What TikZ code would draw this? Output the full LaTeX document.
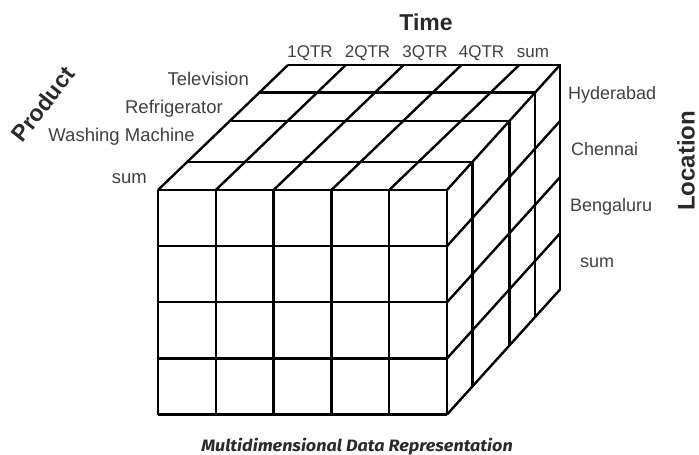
\documentclass[tikz,border=0pt]{standalone}
\usepackage{fontspec}
\setmainfont{Liberation Sans}
\newfontfamily\capfont{Fira Sans}
\definecolor{labelgray}{HTML}{404040}
\definecolor{titlegray}{HTML}{2A2A2A}
\begin{document}
\begin{tikzpicture}[x=1pt,y=-1pt,
  grid/.style={line width=2.4pt,black},
  lbl/.style={font=\fontsize{17}{19}\selectfont,text=labelgray,inner sep=0pt},
  sidelbl/.style={lbl,font=\fontsize{18}{20}\selectfont},
  prodlbl/.style={lbl,font=\fontsize{18.5}{20}\selectfont},
  ttl/.style={font=\fontsize{23}{25}\selectfont\bfseries,text=titlegray,inner sep=0pt}]
\useasboundingbox (0,0) rectangle (699,455);

% front face: 5 columns x 4 rows
\foreach \x in {158,215.8,273.6,331.4,389.2,447}
  \draw[grid] (\x,190) -- (\x,414.5);
\foreach \y in {190,246.1,302.25,358.4,414.5}
  \draw[grid] (158,\y) -- (447,\y);

% top face: column edges running back
\foreach \x in {158,215.8,273.6,331.4,389.2}
  \draw[grid] (\x,190) -- ++(130,-125);
% right top edge
\draw[grid] (447,190) -- (560,65);
% depth slices: line across the top, then down the side
\foreach \f in {0.224,0.552,0.78,1}
  \draw[grid] ({158+130*\f},{190-125*\f}) -- ({447+113*\f},{190-125*\f})
              -- ({447+113*\f},{415-125*\f});
% side face: row edges running back
\foreach \y in {246.1,302.25,358.4,414.5}
  \draw[grid] (447,\y) -- ++(113,-125);

% axis titles
\node[ttl,anchor=base] (time) at (426,30) {Time};
\node[ttl,font=\fontsize{23}{25}\selectfont\bfseries,rotate=52] (product) at (43,104) {Product};
\node[ttl,font=\fontsize{24}{26}\selectfont\bfseries,rotate=90] (location) at (686,161) {Location};

% time members
\node[lbl,anchor=base] (q1) at (310,57) {1QTR};
\node[lbl,anchor=base] (q2) at (367.5,57) {2QTR};
\node[lbl,anchor=base] (q3) at (425,57) {3QTR};
\node[lbl,anchor=base] (q4) at (481.5,57) {4QTR};
\node[lbl,anchor=base] (qs) at (533,57) {sum};

% product members
\node[prodlbl,anchor=base east] (tv) at (249,85) {Television};
\node[prodlbl,anchor=base east] (fridge) at (223,113) {Refrigerator};
\node[prodlbl,anchor=base east] (washer) at (195,141) {Washing Machine};
\node[prodlbl,anchor=base east] (psum) at (147,183) {sum};

% location members
\node[sidelbl,anchor=base west] (hyd) at (568,99) {Hyderabad};
\node[sidelbl,anchor=base west] (che) at (571,155) {Chennai};
\node[sidelbl,anchor=base west] (ben) at (570,211) {Bengaluru};
\node[sidelbl,anchor=base west] (lsum) at (580,267) {sum};

% caption
\node[inner sep=0pt,text=titlegray,xscale=1.09,
      font=\capfont\fontsize{16.5}{18}\selectfont\bfseries\itshape]
  (caption) at (357,447) {Multidimensional Data Representation};
\end{tikzpicture}
\end{document}
